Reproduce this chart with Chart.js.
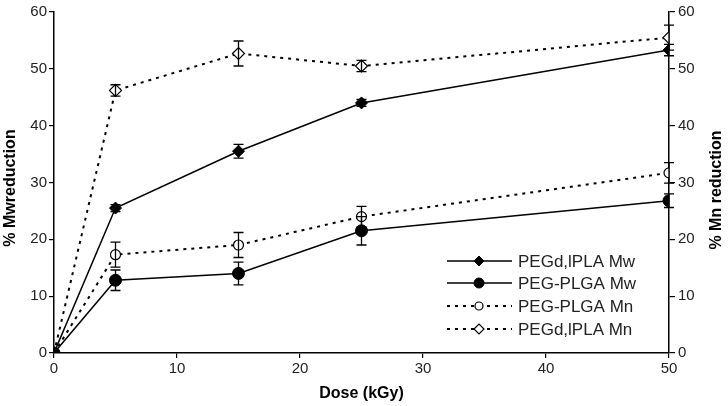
<!DOCTYPE html>
<html>
<head>
<meta charset="utf-8">
<script src="https://cdn.jsdelivr.net/npm/chart.js@4"></script>
<style>
  html, body { margin: 0; padding: 0; background: #fff; }
  #wrap { width: 728px; height: 406px; }
</style>
</head>
<body>
<div id="wrap"><canvas id="chart" width="728" height="406"></canvas></div>
<script>
// Dose (kGy) and % reduction readings
const dose = [0, 5, 15, 25, 50];
const pegdlplaMw = [0, 25.5, 35.5, 44, 53.3];
const pegPlgaMw = [0, 12.8, 14, 21.5, 26.8];
const pegPlgaMn = [0, 17.3, 19, 24, 31.7];
const pegdlplaMn = [0, 46.2, 52.7, 50.5, 55.5];

// +/- error values
const pegdlplaMwErr = [0, 0.6, 1.2, 0.6, 1];
const pegPlgaMwErr = [0, 1.8, 2, 2.5, 1.2];
const pegPlgaMnErr = [0, 2.2, 2.2, 1.8, 1.8];
const pegdlplaMnErr = [0, 1, 2.2, 1, 2.2];

const xTicks = [0, 10, 20, 30, 40, 50];
const yTicks = [0, 10, 20, 30, 40, 50, 60];

const seriesNames = ['PEGd,lPLA Mw', 'PEG-PLGA Mw', 'PEG-PLGA Mn', 'PEGd,lPLA Mn'];

function pts(ys) {
    return dose.map((d, i) => ({ x: d, y: ys[i] }));
}

const DOT = [3, 5];

const datasets = [
    { label: seriesNames[0], data: pts(pegdlplaMw), err: pegdlplaMwErr, borderColor: '#000', backgroundColor: '#000',
      borderWidth: 1.5, pointStyle: 'rectRot', pointRadius: 6, pointBorderWidth: 1 },
    { label: seriesNames[1], data: pts(pegPlgaMw), err: pegPlgaMwErr, borderColor: '#000', backgroundColor: '#000',
      borderWidth: 1.5, pointStyle: 'circle', pointRadius: 6, pointBorderWidth: 1 },
    { label: seriesNames[2], data: pts(pegPlgaMn), err: pegPlgaMnErr, borderColor: '#000', backgroundColor: '#fff',
      borderWidth: 2, borderDash: DOT, pointStyle: 'circle', pointRadius: 5, pointBorderWidth: 1.2 },
    { label: seriesNames[3], data: pts(pegdlplaMn), err: pegdlplaMnErr, borderColor: '#000', backgroundColor: '#fff',
      borderWidth: 2, borderDash: DOT, pointStyle: 'rectRot', pointRadius: 6, pointBorderWidth: 1.2 }
];

// error bars drawn through the scales
const errorBars = {
    id: 'errorBars',
    afterDatasetsDraw(chart) {
        const ctx = chart.ctx;
        const xs = chart.scales.x, ys = chart.scales.y;
        ctx.save();
        ctx.strokeStyle = '#000';
        ctx.lineWidth = 1.3;
        chart.data.datasets.forEach(ds => {
            ds.data.forEach((p, i) => {
                const e = ds.err[i];
                if (!e) return;
                const px = xs.getPixelForValue(p.x);
                const top = ys.getPixelForValue(p.y + e);
                const bot = ys.getPixelForValue(p.y - e);
                ctx.beginPath();
                ctx.moveTo(px, top); ctx.lineTo(px, bot);
                ctx.moveTo(px - 5, top); ctx.lineTo(px + 5, top);
                ctx.moveTo(px - 5, bot); ctx.lineTo(px + 5, bot);
                ctx.stroke();
            });
        });
        ctx.restore();
    }
};

// legend (line + marker) and axis titles
const decorations = {
    id: 'decorations',
    afterDraw(chart) {
        const ctx = chart.ctx;
        const area = chart.chartArea;
        ctx.save();
        const rows = [261, 283, 306, 329];
        chart.data.datasets.forEach((ds, i) => {
            const y = rows[i];
            ctx.strokeStyle = '#000';
            ctx.lineWidth = ds.borderWidth;
            ctx.setLineDash(ds.borderDash || []);
            ctx.beginPath();
            ctx.moveTo(447, y); ctx.lineTo(512, y);
            ctx.stroke();
            ctx.setLineDash([]);
            ctx.lineWidth = ds.pointBorderWidth;
            ctx.fillStyle = ds.backgroundColor;
            Chart.helpers.drawPoint(ctx, { pointStyle: ds.pointStyle, radius: ds.pointRadius - 1, borderWidth: ds.pointBorderWidth }, 479, y);
            ctx.fillStyle = '#222';
            ctx.font = '17px "Liberation Sans", Arial, sans-serif';
            ctx.textBaseline = 'middle';
            ctx.fillText(ds.label, 518, y + 1);
        });

        ctx.fillStyle = '#000';
        ctx.font = 'bold 16px "Liberation Sans", Arial, sans-serif';
        ctx.textAlign = 'center';
        ctx.textBaseline = 'middle';
        ctx.fillText('Dose (kGy)', (area.left + area.right) / 2, 394);

        ctx.save();
        ctx.translate(11, 188);
        ctx.rotate(-Math.PI / 2);
        ctx.fillText('% Mwreduction', 0, 0);
        ctx.restore();

        ctx.save();
        ctx.translate(717, 190);
        ctx.rotate(-Math.PI / 2);
        ctx.fillText('% Mn reduction', 0, 0);
        ctx.restore();
        ctx.restore();
    }
};

const tickFont = { family: '"Liberation Sans", Arial, sans-serif', size: 15 };

new Chart(document.getElementById('chart'), {
    type: 'line',
    data: { datasets },
    options: {
        responsive: false,
        animation: false,
        layout: { padding: { top: 6, left: 0, right: 0, bottom: 0 } },
        plugins: { legend: { display: false }, tooltip: { enabled: false } },
        scales: {
            x: {
                type: 'linear', min: 0, max: 50,
                afterBuildTicks: s => { s.ticks = xTicks.map(v => ({ value: v })); },
                afterFit: s => { s.height = 53; },
                border: { color: '#000', width: 1.5 },
                grid: { display: true, drawOnChartArea: false, drawTicks: true, tickLength: 5, color: '#000', lineWidth: 1.2 },
                ticks: { color: '#222', font: tickFont, padding: 2, maxRotation: 0 }
            },
            y: {
                type: 'linear', position: 'left', min: 0, max: 60,
                afterBuildTicks: s => { s.ticks = yTicks.map(v => ({ value: v })); },
                afterFit: s => { s.width = 54; },
                border: { color: '#000', width: 1.5 },
                grid: { display: true, drawOnChartArea: false, drawTicks: true, tickLength: 5, color: '#000', lineWidth: 1.2 },
                ticks: { color: '#222', font: tickFont, padding: 2 }
            },
            y2: {
                type: 'linear', position: 'right', min: 0, max: 60,
                afterBuildTicks: s => { s.ticks = yTicks.map(v => ({ value: v })); },
                afterFit: s => { s.width = 59; },
                border: { color: '#000', width: 1.5 },
                grid: { display: true, drawOnChartArea: false, drawTicks: true, tickLength: 6, color: '#000', lineWidth: 1.2 },
                ticks: { color: '#222', font: tickFont, padding: 3 }
            }
        }
    },
    plugins: [errorBars, decorations]
});
</script>
</body>
</html>
